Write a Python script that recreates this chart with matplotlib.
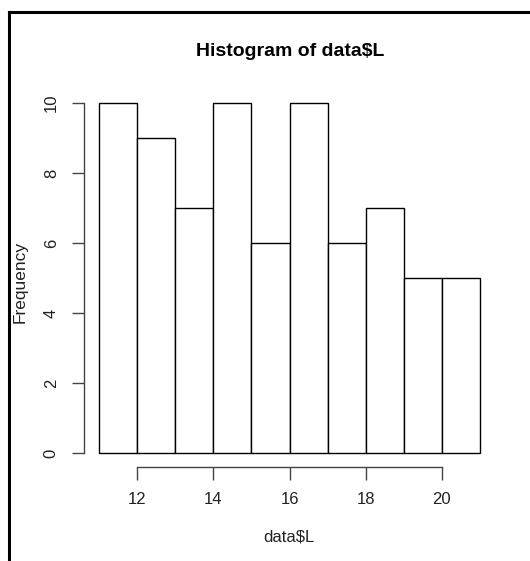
import numpy as np
import matplotlib.pyplot as plt
from matplotlib.lines import Line2D

# --- Data ---
bin_edges = [11, 12, 13, 14, 15, 16, 17, 18, 19, 20, 21]
counts = [10, 9, 7, 10, 6, 10, 6, 7, 5, 5]
x_ticks = [12, 14, 16, 18, 20]
y_ticks = [0, 2, 4, 6, 8, 10]

plt.rcParams['font.family'] = ['Liberation Sans', 'DejaVu Sans']

W, H = 530, 561
fig = plt.figure(figsize=(W / 100, H / 100), dpi=100)

# plot region in pixels (R-style 4% padding around the data range)
left, right, top, bottom = 83.8, 495.2, 89, 467
ax = fig.add_axes([left / W, 1 - bottom / H, (right - left) / W, (bottom - top) / H])

edges = np.array(bin_edges)
ax.bar(edges[:-1], counts, width=np.diff(edges), align='edge',
       facecolor='white', edgecolor='black', linewidth=1.0)

ax.set_xlim(10.6, 21.4)
ax.set_ylim(-0.4, 10.4)

for s in ['top', 'right']:
    ax.spines[s].set_visible(False)
ax.spines['left'].set_bounds(0, 10)
ax.spines['bottom'].set_bounds(12, 20)
for s in ['left', 'bottom']:
    ax.spines[s].set_color('#444444')
    ax.spines[s].set_linewidth(1.0)

ax.set_xticks(x_ticks)
ax.set_yticks(y_ticks)
ax.tick_params(axis='both', length=9, width=1.0, color='#444444',
               labelsize=12, labelcolor='#222222')
ax.tick_params(axis='x', pad=9)
ax.tick_params(axis='y', pad=9)
for lab in ax.get_yticklabels():
    lab.set_rotation(90)
    lab.set_va('center')

fig.text(290 / W, 1 - 51 / H, 'Histogram of data$L', ha='center', va='center',
         fontsize=14, fontweight='bold')
fig.text(289 / W, 1 - 537 / H, 'data$L', ha='center', va='center',
         fontsize=12, color='#222222')
fig.text(20 / W, 1 - 282 / H, 'Frequency', ha='center', va='center',
         rotation=90, fontsize=12.5, color='#222222')

# screenshot frame (top and left edge)
fig.add_artist(Line2D([9 / W, 1], [1 - 12 / H, 1 - 12 / H], transform=fig.transFigure,
                      color='black', linewidth=2.2))
fig.add_artist(Line2D([9 / W, 9 / W], [0, 1 - 12 / H], transform=fig.transFigure,
                      color='black', linewidth=2.2))

fig.savefig('out.png', dpi=100)
